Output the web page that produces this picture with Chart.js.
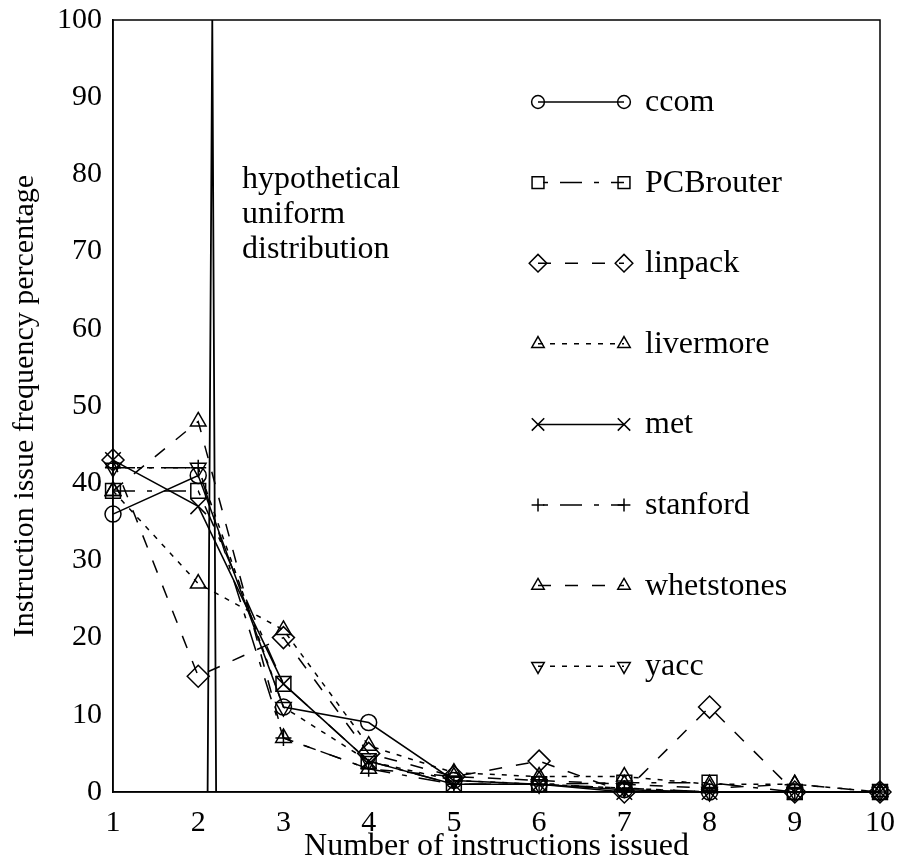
<!DOCTYPE html>
<html><head><meta charset="utf-8">
<script src="https://cdn.jsdelivr.net/npm/chart.js@4.4.1/dist/chart.umd.min.js"></script>
<style>html,body{margin:0;padding:0;background:#fff;}canvas{display:block;}</style>
</head><body>
<canvas id="c" width="899" height="863"></canvas>
<script>
// ---- data ----
const xValues    = [1, 2, 3, 4, 5, 6, 7, 8, 9, 10];
const ccom       = [36, 41, 11, 9, 1.5, 1, 0.3, 0, 0, 0];
const pcbrouter  = [39, 39, 14, 4, 1, 1, 1.2, 1.2, 0, 0];
const linpack    = [43, 15, 20, 5, 2, 4, 0, 11, 0, 0];
const livermore  = [39, 27, 21, 6, 2.5, 2, 2, 1, 1, 0];
const met        = [43, 37, 14, 4, 1, 1, 0, 0, 0, 0];
const stanford   = [42, 42, 7, 3, 1, 1, 0.5, 0, 0, 0];
const whetstones = [39, 48, 7, 3, 2, 1.5, 1, 0.5, 1, 0];
const yacc       = [42, 42, 11, 4, 1.5, 1, 0.5, 0, 0, 0];
const uniformX   = [2.11, 2.165, 2.21];
const uniformY   = [0, 100, 0];
const seriesNames = ['ccom', 'PCBrouter', 'linpack', 'livermore', 'met', 'stanford', 'whetstones', 'yacc'];
const xTickLabels = ['1','2','3','4','5','6','7','8','9','10'];
const yTickLabels = ['0','10','20','30','40','50','60','70','80','90','100'];
const annotationLines = ['hypothetical', 'uniform', 'distribution'];

// ---- styles ----
const SOLID = [], DASHDOT = [22, 12, 5, 12], LONGDASH = [13, 14], DOTTED = [5, 7];
const styles = [
  {dash: SOLID,    ps: 'circle',   r: 8,    rot: 0, off: 0},
  {dash: DASHDOT,  ps: 'rect',     r: 10.5, rot: 0, off: 29},
  {dash: LONGDASH, ps: 'rectRot',  r: 11,   rot: 0, off: 0},
  {dash: DOTTED,   ps: 'triangle', r: 9,    rot: 0, off: 0},
  {dash: SOLID,    ps: 'crossRot', r: 11,   rot: 0, off: 0},
  {dash: DASHDOT,  ps: 'cross',    r: 8,    rot: 0, off: 29},
  {dash: LONGDASH, ps: 'triangle', r: 9,    rot: 0, off: 0},
  {dash: DOTTED,   ps: 'triangle', r: 9,    rot: 180, off: 0}
];
const seriesValues = [ccom, pcbrouter, linpack, livermore, met, stanford, whetstones, yacc];

const FONT = "'Liberation Serif', 'Times New Roman', serif";
Chart.defaults.font.family = FONT;
Chart.defaults.font.size = 30;
Chart.defaults.color = '#000';

const datasets = seriesValues.map((vals, i) => ({
  label: seriesNames[i],
  data: xValues.map((x, j) => ({x: x, y: vals[j]})),
  borderColor: '#000',
  borderWidth: 1.5,
  borderDash: styles[i].dash,
  pointStyle: styles[i].ps,
  pointRadius: styles[i].r,
  pointRotation: styles[i].rot,
  pointBorderWidth: 1.5,
  pointBorderColor: '#000',
  pointBackgroundColor: 'rgba(0,0,0,0)',
  fill: false,
  tension: 0,
  clip: false
}));
datasets.push({
  label: 'uniform',
  data: uniformX.map((x, j) => ({x: x, y: uniformY[j]})),
  borderColor: '#000',
  borderWidth: 1.8,
  pointRadius: 0,
  fill: false,
  tension: 0,
  clip: false
});

const decorPlugin = {
  id: 'decor',
  afterDraw(chart) {
    const ctx = chart.ctx, ca = chart.chartArea;
    ctx.save();
    // frame
    ctx.strokeStyle = '#000';
    ctx.lineWidth = 1.5;
    ctx.setLineDash([]);
    ctx.strokeRect(ca.left, ca.top, ca.right - ca.left, ca.bottom - ca.top);
    // annotation text
    ctx.fillStyle = '#000';
    ctx.font = '32px ' + FONT;
    ctx.textAlign = 'left';
    ctx.textBaseline = 'alphabetic';
    annotationLines.forEach((t, i) => ctx.fillText(t, 242, 188 + i * 35));
    // legend
    const x0 = 538, x1 = 624, tx = 645, top = 102, step = 80.6, k = 0.8;
    seriesNames.forEach((name, i) => {
      const y = top + i * step, st = styles[i];
      ctx.strokeStyle = '#000';
      ctx.lineWidth = 1.5;
      ctx.setLineDash(st.dash);
      ctx.lineDashOffset = st.off;
      ctx.beginPath(); ctx.moveTo(x0, y); ctx.lineTo(x1, y); ctx.stroke();
      ctx.setLineDash([]);
      ctx.lineDashOffset = 0;
      ctx.fillStyle = 'rgba(0,0,0,0)';
      [x0, x1].forEach(px => {
        Chart.helpers.drawPoint(ctx, {pointStyle: st.ps, rotation: st.rot, radius: st.r * k, borderWidth: 1.5}, px, y);
      });
      ctx.fillStyle = '#000';
      ctx.fillText(name, tx, y + 9);
    });
    ctx.restore();
  }
};

new Chart(document.getElementById('c'), {
  type: 'line',
  data: {datasets: datasets},
  plugins: [decorPlugin],
  options: {
    responsive: false,
    animation: false,
    events: [],
    layout: {padding: {top: 20, right: 19, left: 0, bottom: 0}},
    plugins: {legend: {display: false}, tooltip: {enabled: false}},
    scales: {
      x: {
        type: 'linear', min: 1, max: 10,
        grid: {display: false, drawTicks: false},
        border: {display: true, color: '#000', width: 1.5},
        ticks: {stepSize: 1, padding: 13, color: '#000', font: {size: 30},
          callback: (v) => { const i = xValues.indexOf(v); return i >= 0 ? xTickLabels[i] : ''; }},
        title: {display: true, text: 'Number of instructions issued', color: '#000',
          font: {size: 32, lineHeight: 1.0}, padding: {top: 0, bottom: 0}},
        afterFit: (s) => { s.height = 71; s.paddingLeft = 0; s.paddingRight = 0; }
      },
      y: {
        type: 'linear', min: 0, max: 100,
        grid: {display: false, drawTicks: false},
        border: {display: true, color: '#000', width: 1.5},
        ticks: {stepSize: 10, padding: 11, color: '#000', font: {size: 30},
          callback: (v) => { const i = Math.round(v / 10); return yTickLabels[i] !== undefined ? yTickLabels[i] : ''; }},
        title: {display: true, text: 'Instruction issue frequency percentage', color: '#000',
          font: {size: 30, lineHeight: 1.2}, padding: {top: 7, bottom: 0}},
        afterFit: (s) => { s.width = 113; s.paddingTop = 0; s.paddingBottom = 0; }
      }
    }
  }
});
</script>
</body></html>
